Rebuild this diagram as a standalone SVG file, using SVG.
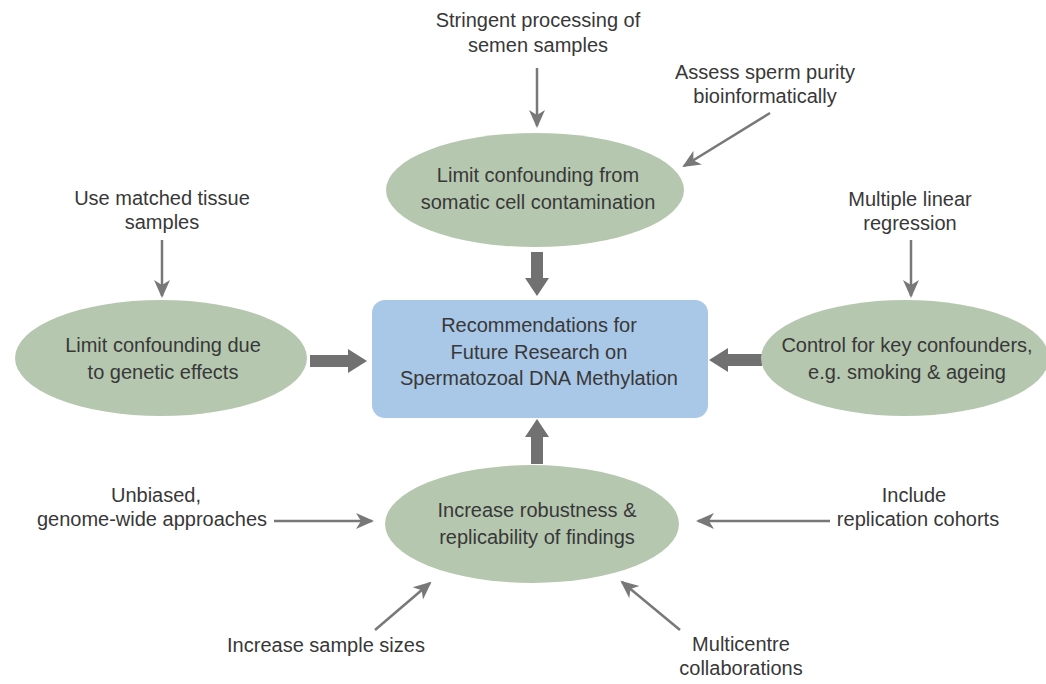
<svg xmlns="http://www.w3.org/2000/svg" width="1046" height="684" viewBox="0 0 1046 684">
<defs>
<style>
text{font-family:"Liberation Sans",Arial,sans-serif;font-size:20px;fill:#383838;text-anchor:middle}
.ell{fill:#b6c7b0}
.box{fill:#a9c7e7}
.thin{stroke:#787878;stroke-width:2.5;fill:none;marker-end:url(#ah)}
.thick{fill:#717172}
</style>
<marker id="ah" markerUnits="userSpaceOnUse" markerWidth="20" markerHeight="20" viewBox="0 0 20 20" refX="16" refY="10" orient="auto">
<path d="M0,2 L18,10 L0,18 L5,10 Z" fill="#787878"/>
</marker>
</defs>
<rect width="1046" height="684" fill="#ffffff"/>

<g id="connectors">
<line class="thin" x1="537" y1="68" x2="537" y2="126"/>
<line class="thin" x1="770" y1="113" x2="684" y2="166"/>
<line class="thin" x1="162" y1="240" x2="162" y2="296"/>
<line class="thin" x1="911" y1="240" x2="911" y2="296"/>
<line class="thin" x1="274" y1="521" x2="372" y2="521"/>
<line class="thin" x1="830" y1="521" x2="698" y2="521"/>
<line class="thin" x1="375" y1="630" x2="430" y2="583"/>
<line class="thin" x1="680" y1="630" x2="622" y2="582"/>
<polygon class="thick" points="531,252 543,252 543,278 549,278 537,296 525,278 531,278"/>
<polygon class="thick" points="531,464 543,464 543,437 549,437 537,419 525,437 531,437"/>
<polygon class="thick" points="310,355 348,355 348,349 367,361 348,373 348,367 310,367"/>
<polygon class="thick" points="762,354 728,354 728,348 709,360 728,372 728,366 762,366"/>
</g>

<g id="label-stringent">
<text x="538" y="27">Stringent processing of</text>
<text x="538" y="52">semen samples</text>
</g>
<g id="label-assess">
<text x="765" y="79">Assess sperm purity</text>
<text x="765" y="103">bioinformatically</text>
</g>
<g id="node-somatic">
<ellipse class="ell" cx="535" cy="190" rx="149" ry="57"/>
<text x="538" y="182">Limit confounding from</text>
<text x="538" y="209">somatic cell contamination</text>
</g>
<g id="label-matched">
<text x="162" y="205">Use matched tissue</text>
<text x="162" y="229">samples</text>
</g>
<g id="label-regression">
<text x="910" y="206">Multiple linear</text>
<text x="910" y="230">regression</text>
</g>
<g id="node-genetic">
<ellipse class="ell" cx="161" cy="358" rx="146" ry="58"/>
<text x="163" y="352">Limit confounding due</text>
<text x="163" y="379">to genetic effects</text>
</g>
<g id="node-center">
<rect class="box" x="372" y="300" width="336" height="118" rx="13"/>
<text x="539" y="332">Recommendations for</text>
<text x="539" y="359">Future Research on</text>
<text x="539" y="385">Spermatozoal DNA Methylation</text>
</g>
<g id="node-confounders">
<ellipse class="ell" cx="905" cy="358" rx="144" ry="58"/>
<text x="907" y="352">Control for key confounders,</text>
<text x="907" y="379">e.g. smoking &amp; ageing</text>
</g>
<g id="node-robustness">
<ellipse class="ell" cx="532" cy="524" rx="147" ry="59"/>
<text x="537" y="517">Increase robustness &amp;</text>
<text x="537" y="544">replicability of findings</text>
</g>
<g id="label-unbiased">
<text x="156" y="502">Unbiased,</text>
<text x="152" y="526">genome-wide approaches</text>
</g>
<g id="label-include">
<text x="914" y="502">Include</text>
<text x="918" y="526">replication cohorts</text>
</g>
<g id="label-sample">
<text x="326" y="652">Increase sample sizes</text>
</g>
<g id="label-multicentre">
<text x="741" y="651">Multicentre</text>
<text x="741" y="675">collaborations</text>
</g>
</svg>
